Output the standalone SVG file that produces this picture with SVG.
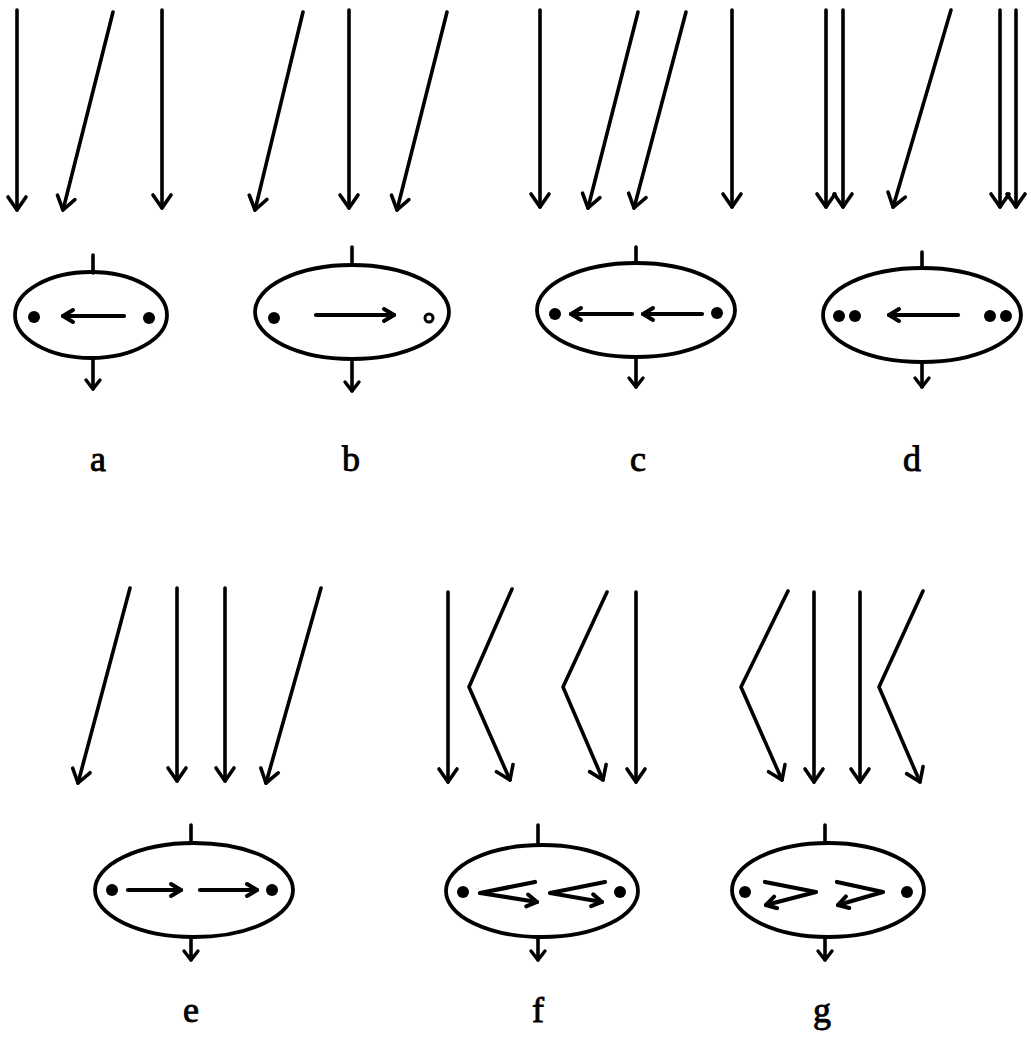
<svg xmlns="http://www.w3.org/2000/svg" width="1031" height="1041" viewBox="0 0 1031 1041">
<style>
.ln{fill:none;stroke:#000;stroke-width:3.6;stroke-linecap:round;stroke-linejoin:round}
.in{fill:none;stroke:#000;stroke-width:4.2;stroke-linecap:round;stroke-linejoin:round}
.el{fill:none;stroke:#000;stroke-width:3.8}
.dot{fill:#000}
.lbl{font-family:"Liberation Serif",serif;font-size:36px;fill:#000;stroke:#000;stroke-width:0.9;text-anchor:middle}
</style>
<defs>
<marker id="big" markerUnits="userSpaceOnUse" viewBox="-16 -12 20 24" markerWidth="20" markerHeight="24" refX="0" refY="0" orient="auto" overflow="visible">
<path d="M-13,-9 L0,0 L-13,9" fill="none" stroke="#000" stroke-width="3.6" stroke-linecap="round" stroke-linejoin="round"/>
</marker>
<marker id="small" markerUnits="userSpaceOnUse" viewBox="-12 -10 16 20" markerWidth="16" markerHeight="20" refX="0" refY="0" orient="auto" overflow="visible">
<path d="M-9,-7 L0,0 L-9,7" fill="none" stroke="#000" stroke-width="3.4" stroke-linecap="round" stroke-linejoin="round"/>
</marker>
<marker id="mid" markerUnits="userSpaceOnUse" viewBox="-12 -10 16 20" markerWidth="16" markerHeight="20" refX="0" refY="0" orient="auto" overflow="visible">
<path d="M-10,-6 L0,0 L-10,6" fill="none" stroke="#000" stroke-width="4" stroke-linecap="round" stroke-linejoin="round"/>
</marker>
</defs>
<g id="connectors">
<!-- a -->
<line class="ln" x1="17" y1="10" x2="17" y2="210" marker-end="url(#big)"/>
<line class="ln" x1="113" y1="12" x2="63" y2="210" marker-end="url(#big)"/>
<line class="ln" x1="162" y1="10" x2="162" y2="208" marker-end="url(#big)"/>
<!-- b -->
<line class="ln" x1="303" y1="12" x2="255" y2="210" marker-end="url(#big)"/>
<line class="ln" x1="349" y1="10" x2="349" y2="208" marker-end="url(#big)"/>
<line class="ln" x1="447" y1="12" x2="397" y2="210" marker-end="url(#big)"/>
<!-- c -->
<line class="ln" x1="540" y1="10" x2="540" y2="207" marker-end="url(#big)"/>
<line class="ln" x1="638" y1="12" x2="588" y2="208" marker-end="url(#big)"/>
<line class="ln" x1="686" y1="12" x2="634" y2="208" marker-end="url(#big)"/>
<line class="ln" x1="732" y1="10" x2="732" y2="207" marker-end="url(#big)"/>
<!-- d -->
<line class="ln" x1="826" y1="10" x2="826" y2="207" marker-end="url(#big)"/>
<line class="ln" x1="843" y1="10" x2="843" y2="207" marker-end="url(#big)"/>
<line class="ln" x1="951" y1="10" x2="893" y2="207" marker-end="url(#big)"/>
<line class="ln" x1="1000" y1="10" x2="1000" y2="207" marker-end="url(#big)"/>
<line class="ln" x1="1016" y1="10" x2="1016" y2="207" marker-end="url(#big)"/>
<!-- e -->
<line class="ln" x1="130" y1="588" x2="78" y2="783" marker-end="url(#big)"/>
<line class="ln" x1="177" y1="588" x2="177" y2="781" marker-end="url(#big)"/>
<line class="ln" x1="225" y1="588" x2="225" y2="781" marker-end="url(#big)"/>
<line class="ln" x1="321" y1="588" x2="266" y2="783" marker-end="url(#big)"/>
<!-- f -->
<line class="ln" x1="448" y1="592" x2="448" y2="782" marker-end="url(#big)"/>
<polyline class="ln" points="512,589 469,687 510,780" marker-end="url(#big)"/>
<polyline class="ln" points="607,592 563,687 603,780" marker-end="url(#big)"/>
<line class="ln" x1="636" y1="592" x2="636" y2="782" marker-end="url(#big)"/>
<!-- g -->
<polyline class="ln" points="788,591 741,687 782,780" marker-end="url(#big)"/>
<line class="ln" x1="814" y1="592" x2="814" y2="782" marker-end="url(#big)"/>
<line class="ln" x1="860" y1="592" x2="860" y2="782" marker-end="url(#big)"/>
<polyline class="ln" points="923,591 879,687 920,782" marker-end="url(#big)"/>
</g>
<g id="node-a">
<line class="ln" x1="93" y1="255" x2="93" y2="273"/>
<ellipse class="el" cx="91" cy="315" rx="76" ry="43"/>
<line class="ln" x1="93" y1="358" x2="93" y2="389" marker-end="url(#small)"/>
<circle class="dot" cx="34" cy="317" r="6"/>
<circle class="dot" cx="149" cy="318" r="6"/>
<line class="in" x1="124" y1="316" x2="63" y2="316" marker-end="url(#mid)"/>
<text class="lbl" x="98" y="471">a</text>
</g>
<g id="node-b">
<line class="ln" x1="352" y1="247" x2="352" y2="265"/>
<ellipse class="el" cx="352" cy="312" rx="97" ry="47"/>
<line class="ln" x1="352" y1="360" x2="352" y2="391" marker-end="url(#small)"/>
<circle class="dot" cx="274" cy="318" r="6"/>
<circle cx="429" cy="318" r="4" fill="none" stroke="#000" stroke-width="3"/>
<line class="in" x1="316" y1="315" x2="394" y2="315" marker-end="url(#mid)"/>
<text class="lbl" x="351" y="471">b</text>
</g>
<g id="node-c">
<line class="ln" x1="636" y1="247" x2="636" y2="263"/>
<ellipse class="el" cx="636" cy="310" rx="99" ry="47"/>
<line class="ln" x1="636" y1="358" x2="636" y2="387" marker-end="url(#small)"/>
<circle class="dot" cx="555" cy="314" r="6"/>
<circle class="dot" cx="717" cy="313" r="6"/>
<line class="in" x1="632" y1="314" x2="571" y2="314" marker-end="url(#mid)"/>
<line class="in" x1="702" y1="314" x2="643" y2="314" marker-end="url(#mid)"/>
<text class="lbl" x="638" y="471">c</text>
</g>
<g id="node-d">
<line class="ln" x1="922" y1="252" x2="922" y2="268"/>
<ellipse class="el" cx="922" cy="315" rx="99" ry="47"/>
<line class="ln" x1="922" y1="362" x2="922" y2="387" marker-end="url(#small)"/>
<circle class="dot" cx="839" cy="316" r="6"/>
<circle class="dot" cx="855" cy="316" r="6"/>
<circle class="dot" cx="990" cy="316" r="6"/>
<circle class="dot" cx="1006" cy="316" r="6"/>
<line class="in" x1="958" y1="315" x2="889" y2="315" marker-end="url(#mid)"/>
<text class="lbl" x="912" y="471">d</text>
</g>
<g id="node-e">
<line class="ln" x1="191" y1="825" x2="191" y2="843"/>
<ellipse class="el" cx="194" cy="890" rx="99" ry="47"/>
<line class="ln" x1="191" y1="937" x2="191" y2="960" marker-end="url(#small)"/>
<circle class="dot" cx="112" cy="890" r="6"/>
<circle class="dot" cx="272" cy="890" r="6"/>
<line class="in" x1="128" y1="890" x2="181" y2="890" marker-end="url(#mid)"/>
<line class="in" x1="200" y1="890" x2="257" y2="890" marker-end="url(#mid)"/>
<text class="lbl" x="191" y="1022">e</text>
</g>
<g id="node-f">
<line class="ln" x1="538" y1="825" x2="538" y2="845"/>
<ellipse class="el" cx="542" cy="891" rx="96" ry="46"/>
<line class="ln" x1="538" y1="937" x2="538" y2="960" marker-end="url(#small)"/>
<circle class="dot" cx="463" cy="892" r="6"/>
<circle class="dot" cx="620" cy="892" r="6"/>
<polyline class="in" points="535,882 480,893 537,902" marker-end="url(#mid)"/>
<polyline class="in" points="605,882 550,893 602,902" marker-end="url(#mid)"/>
<text class="lbl" x="538" y="1022">f</text>
</g>
<g id="node-g">
<line class="ln" x1="825" y1="825" x2="825" y2="842"/>
<ellipse class="el" cx="828" cy="890" rx="96" ry="47"/>
<line class="ln" x1="825" y1="937" x2="825" y2="960" marker-end="url(#small)"/>
<circle class="dot" cx="745" cy="892" r="6"/>
<circle class="dot" cx="907" cy="892" r="6"/>
<polyline class="in" points="765,882 816,892 766,905" marker-end="url(#mid)"/>
<polyline class="in" points="837,882 883,892 838,905" marker-end="url(#mid)"/>
<text class="lbl" x="822" y="1022">g</text>
</g>
</svg>
